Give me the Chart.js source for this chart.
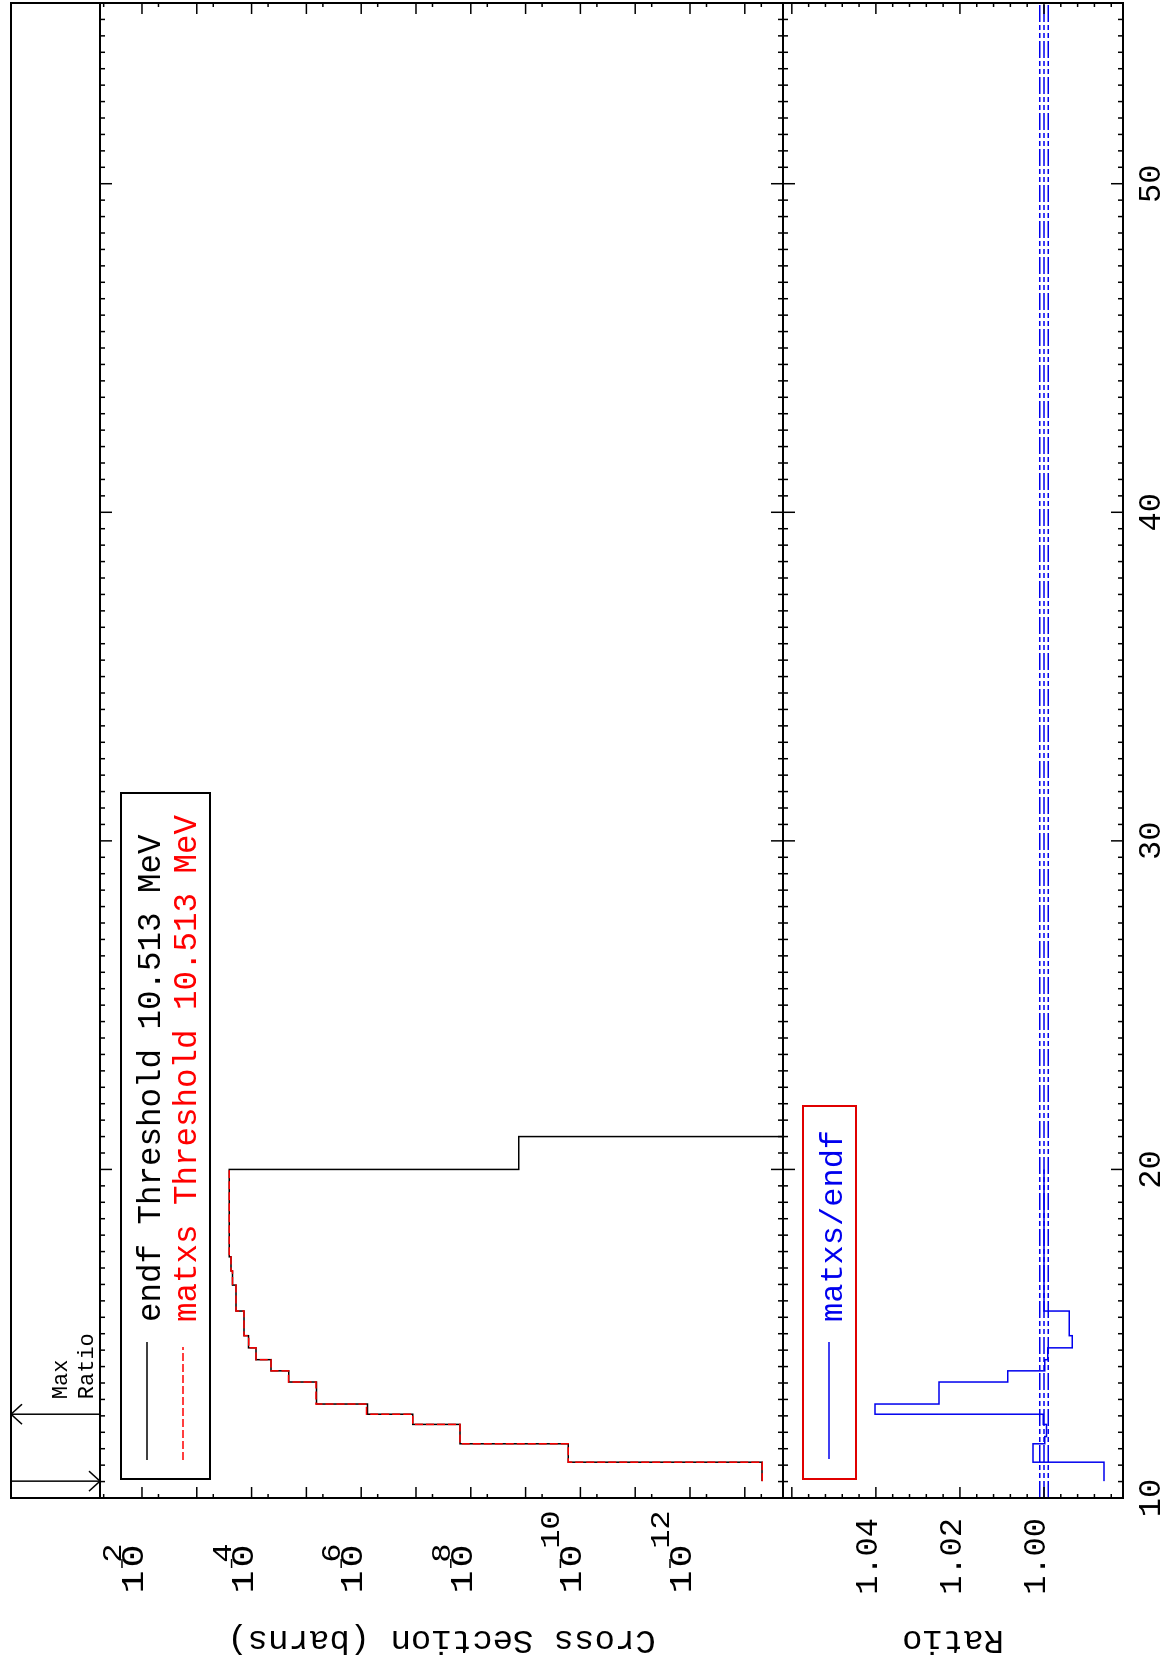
<!DOCTYPE html>
<html>
<head>
<meta charset="utf-8">
<script src="https://cdn.jsdelivr.net/npm/chart.js@4.4.0/dist/chart.umd.min.js"></script>
<style>
  html, body { margin: 0; padding: 0; background: #fff; overflow: hidden; }
  /* the plot is laid out landscape and turned a quarter turn, like the original page */
  #page { position: absolute; left: 0; top: 0; width: 1663px; height: 1166px;
          transform-origin: 0 0; transform: translateY(1663px) rotate(-90deg); }
  #page canvas { position: absolute; left: 0; top: 0; }
</style>
</head>
<body>
<div id="page">
  <canvas id="xsChart" width="1663" height="1166"></canvas>
  <canvas id="ratioChart" width="1663" height="1166"></canvas>
</div>
<script>
// group boundaries (MeV)
const groupEdges = [10.513, 11.09, 11.65, 11.87, 12.24, 12.55, 12.86, 13.53, 13.87, 14.21,
                    14.57, 14.94, 15.69, 16.48, 16.91, 17.34, 20.0];
// group cross sections (barns)
const matxsXs = [4.80e-14, 1.67e-10, 1.58e-8, 1.58e-8, 1.15e-7, 7.96e-7, 6.70e-6, 2.11e-5,
                 4.43e-5, 8.32e-5, 1.13e-4, 1.37e-4, 1.93e-4, 2.23e-4, 2.38e-4, 2.56e-4];
const endfEdges = [10.513, 11.09, 11.65, 11.87, 12.24, 12.55, 12.86, 13.53, 13.87, 14.21,
                   14.57, 14.94, 15.69, 16.48, 16.91, 17.34, 20.0, 21.0, 55.5];
const endfXs = [4.87e-14, 1.67e-10, 1.58e-8, 1.58e-8, 1.15e-7, 7.65e-7, 6.54e-6, 2.09e-5,
                4.43e-5, 8.33e-5, 1.14e-4, 1.38e-4, 1.93e-4, 2.23e-4, 2.38e-4, 2.56e-4,
                1.33e-9, 1e-20];
// matxs/endf per group
const ratioVals = [0.9857, 1.0026, 0.9998, 0.9994, 1.0002, 1.0402, 1.0250, 1.0086,
                   0.9998, 0.9991, 0.9933, 0.9940, 1.0000, 1.0000, 1.0000, 1.0000];
const refLevels = [1.001, 1.000, 0.999];

const energyTicks = [10, 20, 30, 40, 50];
const xsTickExps = [-2, -4, -6, -8, -10, -12];
const ratioTicks = [1.00, 1.02, 1.04];

const eMin = 10, eMax = 55.5;
const xsMin = Math.pow(10, -13.697), xsMax = Math.pow(10, -1.234);
const ratioMin = 0.9812, ratioMax = 1.0621;

const threshold = groupEdges[0];
const maxRatioE = groupEdges[ratioVals.indexOf(Math.max(...ratioVals))];

const RED = '#ff0000', BLUE = '#0000ee';
const FONT = '"Liberation Mono", "DejaVu Sans Mono", monospace';
const STRIP_TOP = 11;

function stepPoints(edges, vals) {
  return edges.map((e, i) => ({ x: e, y: vals[Math.min(i, vals.length - 1)] }));
}

function line(ctx, x1, y1, x2, y2) {
  ctx.beginPath();
  ctx.moveTo(x1, y1);
  ctx.lineTo(x2, y2);
  ctx.stroke();
}

// wide glyph, centred at x
function wideChar(ctx, ch, x, y, sx) {
  ctx.save();
  ctx.translate(x, y);
  ctx.scale(sx, 1);
  ctx.textAlign = 'center';
  ctx.fillText(ch, 0, 0);
  ctx.restore();
}

function energyTicksOn(ctx, a, xS, top, bottom) {
  for (let k = eMin * 2; k <= eMax * 2; k++) {
    const e = k / 2;
    const u = xS.getPixelForValue(e);
    const len = e % 10 === 0 ? 12 : 5;
    if (top) line(ctx, u, a.top, u, a.top + len);
    if (bottom) line(ctx, u, a.bottom, u, a.bottom - len);
  }
}

function vertText(ctx, text, x, y) {
  ctx.save();
  ctx.translate(x, y);
  ctx.rotate(-Math.PI / 2);
  ctx.textAlign = 'center';
  ctx.textBaseline = 'middle';
  ctx.fillText(text, 0, 0);
  ctx.restore();
}

const xsDecor = {
  id: 'xsDecor',
  afterDraw(chart) {
    const ctx = chart.ctx, a = chart.chartArea;
    const xS = chart.scales.x, yS = chart.scales.y;
    ctx.save();
    ctx.strokeStyle = '#000';
    ctx.fillStyle = '#000';

    // frame with the max-ratio strip on top
    ctx.lineWidth = 2;
    ctx.strokeRect(a.left, STRIP_TOP, a.right - a.left, a.bottom - STRIP_TOP);
    line(ctx, a.left, a.top, a.right, a.top);

    ctx.lineWidth = 1.5;
    energyTicksOn(ctx, a, xS, true, true);
    for (let d = -14; d <= -1; d++) {
      for (const [m, len] of [[1, 11], [5, 4]]) {
        const val = m * Math.pow(10, d);
        if (val < yS.min || val > yS.max) continue;
        const v = yS.getPixelForValue(val);
        line(ctx, a.left, v, a.left + len, v);
        line(ctx, a.right, v, a.right - len, v);
      }
    }

    // 10^-n labels
    ctx.textBaseline = 'alphabetic';
    for (const d of xsTickExps) {
      const v = yS.getPixelForValue(Math.pow(10, d));
      ctx.font = '32px ' + FONT;
      wideChar(ctx, '1', a.left - 84, v + 1, 1.2);
      wideChar(ctx, '0', a.left - 58, v + 1, 1.2);
      const digits = String(-d);
      ctx.lineWidth = 1.5;
      line(ctx, a.left - 70, v - 20, a.left - 61, v - 20);
      ctx.font = '28px ' + FONT;
      for (let i = 0; i < digits.length; i++) {
        wideChar(ctx, digits[i], a.left - 55 + (digits.length - 1) * 14 + i * 19, v - 21, 1.15);
      }
    }

    ctx.font = '34px ' + FONT;
    vertText(ctx, 'Cross Section (barns)', 23, (a.top + a.bottom) / 2);

    // max ratio / threshold markers
    ctx.lineWidth = 1.5;
    const uMax = xS.getPixelForValue(maxRatioE);
    const uThr = xS.getPixelForValue(threshold);
    line(ctx, uMax, STRIP_TOP, uMax, a.top);
    line(ctx, uMax - 10, STRIP_TOP + 11, uMax, STRIP_TOP);
    line(ctx, uMax + 10, STRIP_TOP + 11, uMax, STRIP_TOP);
    line(ctx, uThr, STRIP_TOP, uThr, a.top);
    line(ctx, uThr - 10, a.top - 11, uThr, a.top);
    line(ctx, uThr + 10, a.top - 11, uThr, a.top);
    ctx.font = '22px ' + FONT;
    ctx.textAlign = 'left';
    ctx.textBaseline = 'alphabetic';
    ctx.fillText('Max', uMax + 15, a.top - 33);
    ctx.fillText('Ratio', uMax + 15, a.top - 7);

    // legend
    const lx = a.left + 19, ly = a.top + 21;
    ctx.lineWidth = 2;
    ctx.strokeRect(lx, ly, 686, 89);
    ctx.lineWidth = 1.5;
    line(ctx, lx + 19, ly + 26, lx + 137, ly + 26);
    ctx.strokeStyle = RED;
    ctx.setLineDash([8, 3]);
    line(ctx, lx + 19, ly + 62, lx + 132, ly + 62);
    ctx.setLineDash([]);
    ctx.font = '32.5px ' + FONT;
    ctx.fillStyle = '#000';
    ctx.fillText('endf Threshold ' + threshold.toFixed(3) + ' MeV', lx + 157, ly + 39);
    ctx.fillStyle = RED;
    ctx.fillText('matxs Threshold ' + threshold.toFixed(3) + ' MeV', lx + 157, ly + 75);
    ctx.restore();
  }
};

const ratioDecor = {
  id: 'ratioDecor',
  afterDraw(chart) {
    const ctx = chart.ctx, a = chart.chartArea;
    const xS = chart.scales.x, yS = chart.scales.y;
    ctx.save();
    ctx.strokeStyle = '#000';
    ctx.fillStyle = '#000';
    ctx.lineWidth = 2;
    ctx.strokeRect(a.left, a.top, a.right - a.left, a.bottom - a.top);

    ctx.lineWidth = 1.5;
    energyTicksOn(ctx, a, xS, true, true);
    for (let k = 245; k <= 266; k++) {
      const val = k * 0.004;
      if (val < ratioMin || val > ratioMax) continue;
      const v = yS.getPixelForValue(val);
      const len = k % 5 === 0 ? 11 : 4;
      line(ctx, a.left, v, a.left + len, v);
      line(ctx, a.right, v, a.right - len, v);
    }

    ctx.font = '32px ' + FONT;
    ctx.textAlign = 'right';
    ctx.textBaseline = 'alphabetic';
    for (const r of ratioTicks) {
      ctx.fillText(r.toFixed(2), a.left - 20, yS.getPixelForValue(r) + 1);
    }
    ctx.textAlign = 'center';
    for (const e of energyTicks) {
      ctx.fillText(String(e), xS.getPixelForValue(e), a.bottom + 37);
    }

    ctx.font = '34px ' + FONT;
    vertText(ctx, 'Ratio', 23, (a.top + a.bottom) / 2);

    // legend
    const lx = a.left + 19, ly = a.top + 20;
    ctx.strokeStyle = '#e00000';
    ctx.lineWidth = 2;
    ctx.strokeRect(lx, ly, 373, 53);
    ctx.strokeStyle = BLUE;
    ctx.lineWidth = 1.5;
    line(ctx, lx + 20, ly + 26, lx + 137, ly + 26);
    ctx.fillStyle = BLUE;
    ctx.font = '32px ' + FONT;
    ctx.textAlign = 'left';
    ctx.fillText('matxs/endf', lx + 157, ly + 39);
    ctx.restore();
  }
};

const common = {
  responsive: false,
  animation: false,
  events: [],
  plugins: { legend: { display: false }, tooltip: { enabled: false } },
  elements: { point: { radius: 0 }, line: { tension: 0, borderCapStyle: 'butt' } }
};

new Chart(document.getElementById('xsChart').getContext('2d'), {
  type: 'line',
  data: {
    datasets: [
      { label: 'matxs', data: stepPoints(groupEdges, matxsXs), stepped: 'before',
        borderColor: RED, borderWidth: 1.5, borderDash: [8, 3], order: 1 },
      { label: 'endf', data: stepPoints(endfEdges, endfXs), stepped: 'before',
        borderColor: '#000', borderWidth: 1.5, order: 2 }
    ]
  },
  options: Object.assign({}, common, {
    layout: { padding: { left: 165, right: 3, top: 100, bottom: 383 } },
    scales: {
      x: { type: 'linear', min: eMin, max: eMax, display: false },
      y: { type: 'logarithmic', min: xsMin, max: xsMax, display: false }
    }
  }),
  plugins: [xsDecor]
});

const refSets = refLevels.map(r => ({
  label: 'ref ' + r,
  data: [{ x: eMin, y: r }, { x: eMax, y: r }],
  borderColor: BLUE, borderWidth: 1.5, borderDash: [17, 3, 5, 3, 5, 3], order: 2
}));

new Chart(document.getElementById('ratioChart').getContext('2d'), {
  type: 'line',
  data: {
    datasets: [
      { label: 'matxs/endf', data: stepPoints(groupEdges, ratioVals), stepped: 'before',
        borderColor: BLUE, borderWidth: 1.5, order: 1 },
      ...refSets
    ]
  },
  options: Object.assign({}, common, {
    layout: { padding: { left: 165, right: 3, top: 783, bottom: 43 } },
    scales: {
      x: { type: 'linear', min: eMin, max: eMax, display: false },
      y: { type: 'linear', min: ratioMin, max: ratioMax, display: false }
    }
  }),
  plugins: [ratioDecor]
});
</script>
</body>
</html>
